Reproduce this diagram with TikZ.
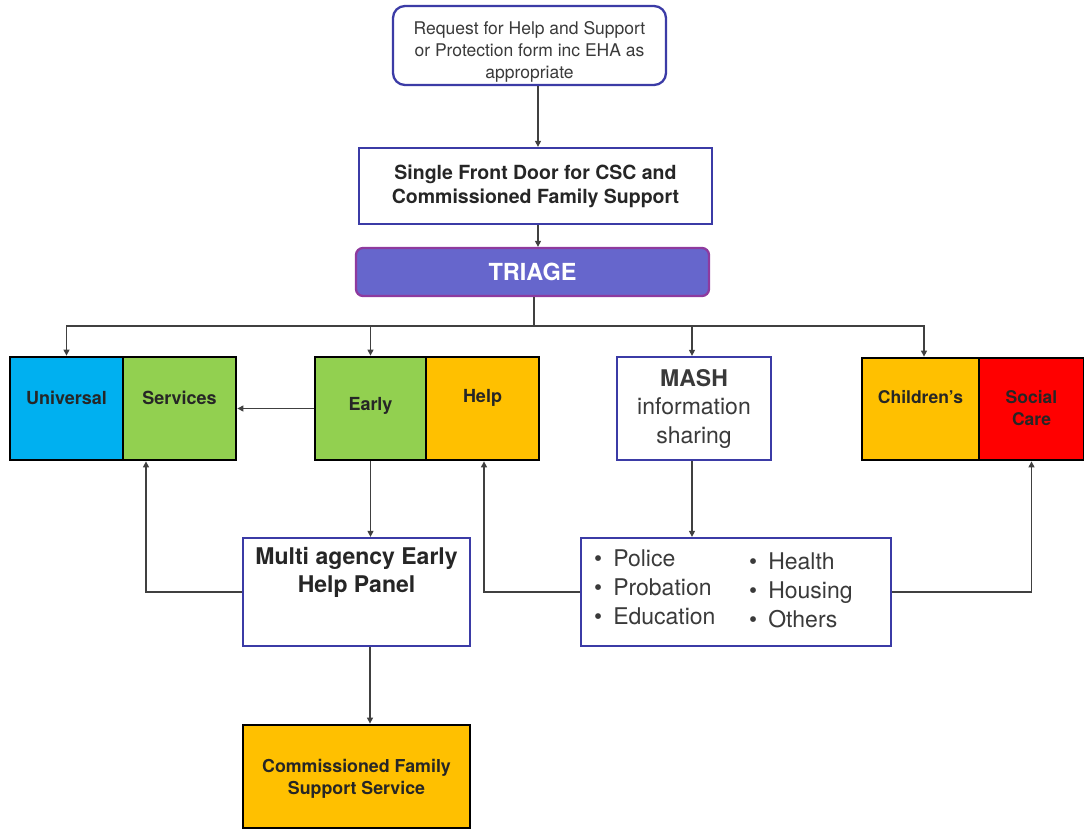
\documentclass[tikz,border=0pt]{standalone}
\usepackage{fontspec}
\setmainfont{TeX Gyre Heros}
\usetikzlibrary{arrows.meta}
\definecolor{bluebd}{HTML}{3B3BA6}
\definecolor{triagefill}{HTML}{6666CC}
\definecolor{triagebd}{HTML}{8E3A9E}
\definecolor{cblue}{HTML}{00B0F0}
\definecolor{cgreen}{HTML}{92D050}
\definecolor{corange}{HTML}{FFC000}
\definecolor{cred}{HTML}{FF0000}
\definecolor{linec}{HTML}{404040}
\definecolor{txtg}{HTML}{3A3A3A}
\tikzset{
  bluebox/.style={draw=bluebd, line width=2.3pt, fill=white, inner sep=0pt},
  colbox/.style={draw=black, line width=2.8pt, inner sep=0pt},
  conn/.style={draw=linec, line width=1.2pt, -{Triangle[length=6pt,width=6pt]}},
  plain/.style={draw=linec, line width=1.2pt},
  coltxt/.style={font=\bfseries\fontsize{18}{22}\selectfont, align=center, text=black!85},
}
\begin{document}
\begin{tikzpicture}[x=1pt,y=-1pt]
\useasboundingbox (0,0) rectangle (1084,830);

% top boxes
\node[bluebox, rounded corners=12pt, minimum width=273pt, minimum height=79pt] (req) at (529.5,45.5) {};
\node[align=center, text=txtg, font=\fontsize{17.5}{22}\selectfont] (reqt) at (529.5,52)
  {Request for Help and Support\\or Protection form inc EHA as\\appropriate};
\node[bluebox, minimum width=353pt, minimum height=76pt, align=center,
      font=\bfseries\fontsize{19.5}{24}\selectfont, text=black!85] (fd) at (535.5,186)
  {Single Front Door for CSC and\\Commissioned Family Support};
\node[draw=triagebd, line width=2.3pt, fill=triagefill, rounded corners=7pt,
      minimum width=353pt, minimum height=48pt, inner sep=0pt,
      text=white, font=\bfseries\fontsize{23.5}{24}\selectfont] (tri) at (532.5,272) {TRIAGE};

% second row
\node[colbox, fill=cblue, minimum width=113pt, minimum height=103pt] (uni) at (66.5,408.5) {};
\node[colbox, fill=cgreen, minimum width=113pt, minimum height=103pt] (serv) at (179.5,408.5) {};
\node[coltxt] (unit) at (66.5,398) {Universal};
\node[coltxt] (servt) at (179.5,398) {Services};

\node[colbox, fill=cgreen, minimum width=111pt, minimum height=103pt] (early) at (370.5,408.5) {};
\node[colbox, fill=corange, minimum width=113pt, minimum height=103pt] (help) at (482.5,408.5) {};
\node[coltxt] (earlyt) at (370.5,406) {Early};
\node[coltxt] (helpt) at (482.5,398) {Help};

\node[bluebox, minimum width=154pt, minimum height=103pt] (mash) at (694,408.5) {};
\node[align=center, font=\fontsize{23}{28.5}\selectfont, text=txtg] (masht) at (694,408.5)
  {\textbf{MASH}\\information\\sharing};

\node[colbox, fill=corange, minimum width=117pt, minimum height=102pt] (child) at (920.5,409) {};
\node[colbox, fill=cred, minimum width=105pt, minimum height=102pt] (social) at (1031.5,409) {};
\node[coltxt, font=\bfseries\fontsize{17.5}{22}\selectfont] (childt) at (920.5,397) {Children’s};
\node[coltxt, font=\bfseries\fontsize{17.5}{22}\selectfont] (socialt) at (1031.5,408) {Social\\Care};

% third row
\node[bluebox, minimum width=227pt, minimum height=108pt] (panel) at (356.5,592) {};
\node[align=center, font=\bfseries\fontsize{23}{28}\selectfont, text=black!85] (panelt) at (356.5,572)
  {Multi agency Early\\Help Panel};

\node[bluebox, minimum width=310pt, minimum height=108pt] (list) at (736,592) {};
\node[anchor=north west, inner sep=0pt, font=\fontsize{23}{29}\selectfont, text=txtg] (listl) at (594,546)
  {\begin{tabular}{@{}l@{\hspace{11pt}}l@{}}•&Police\\•&Probation\\•&Education\end{tabular}};
\node[anchor=north west, inner sep=0pt, font=\fontsize{23}{29}\selectfont, text=txtg] (listr) at (749,549)
  {\begin{tabular}{@{}l@{\hspace{11pt}}l@{}}•&Health\\•&Housing\\•&Others\end{tabular}};

% bottom
\node[colbox, fill=corange, minimum width=227pt, minimum height=103pt] (cfss) at (356.5,776.5) {};
\node[align=center, font=\bfseries\fontsize{17.8}{22}\selectfont, text=black!85] (cfsst) at (356.5,779)
  {Commissioned Family\\Support Service};

% connectors
\draw[conn] ([xshift=8.5pt]req.south) -- ([xshift=2.5pt]fd.north);
\draw[conn] ([xshift=2.5pt]fd.south) -- ([xshift=5.5pt]tri.north);
\coordinate (hub) at (534,326);
\draw[plain] ([xshift=1.5pt]tri.south) -- (hub);
\draw[conn] (hub) -| (uni.north);
\draw[conn] (hub) -| (early.north);
\draw[conn] (hub) -| ([xshift=-2pt]mash.north);
\draw[conn] (hub) -| ([xshift=3.5pt]child.north);
\draw[conn] (early.west) -- (serv.east);
\draw[conn] (early.south) -- (early.south |- panel.north);
\draw[conn] (panel.west) -| ([xshift=-33.5pt]serv.south);
\draw[conn] ([xshift=13.5pt]panel.south) -- ([xshift=13.5pt]cfss.north);
\draw[conn] ([xshift=-2pt]mash.south) -- ([xshift=-2pt]mash.south |- list.north);
\draw[conn] (list.west) -| ([xshift=1.5pt]help.south);
\draw[conn] (list.east) -| (social.south);
\end{tikzpicture}
\end{document}
